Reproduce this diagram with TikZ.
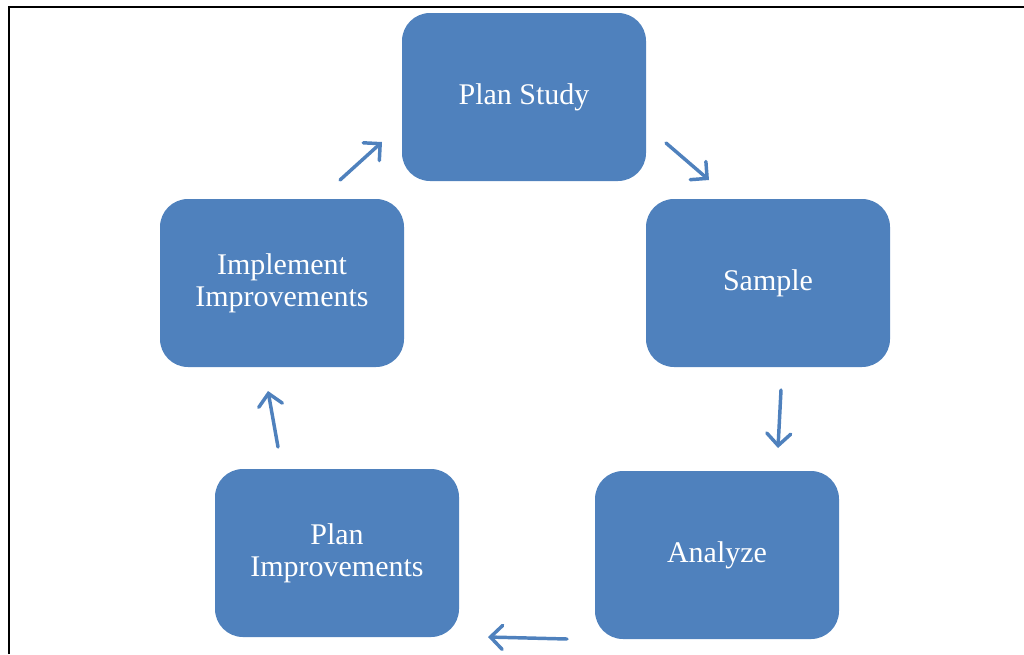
\documentclass[tikz,border=0pt]{standalone}
\usepackage{fontspec}
\setmainfont{Liberation Serif}
\usetikzlibrary{arrows.meta}
\definecolor{stageblue}{HTML}{4F81BD}

\begin{document}
\begin{tikzpicture}[x=0.75pt,y=-0.75pt]
	\tikzset{stage/.style={rectangle,rounded corners=21pt,fill=stageblue,text=white,align=center,
		minimum width=183pt,minimum height=126pt,font=\fontsize{22.5}{24}\selectfont}}
	\tikzset{flow/.style={draw=stageblue,line width=2.6pt,line cap=round,
		-{Straight Barb[length=9pt,width=18pt,line cap=round]}}}
	\useasboundingbox (0,0) rectangle (1024,654);
	\draw[line width=1.5pt] (9,654) -- (9,7) -- (1024,7);
	% the five stages
	\node[stage] (plan) at (524,97) {Plan Study};
	\node[stage] (sample) at (768,283) {Sample};
	\node[stage] (analyze) at (717,555) {Analyze};
	\node[stage] (planimp) at (337,553) {Plan\\Improvements};
	\node[stage] (impl) at (282,283) {Implement\\Improvements};
	% arrow ends
	\coordinate (a1s) at (340,180); \coordinate (a1e) at (382,142);
	\coordinate (a2s) at (666,143); \coordinate (a2e) at (709,180);
	\coordinate (a3s) at (781,390); \coordinate (a3e) at (778,448);
	\coordinate (a4s) at (567,639); \coordinate (a4e) at (488,637);
	\coordinate (a5s) at (278,447); \coordinate (a5e) at (268,391);
	\foreach \i in {1,...,5}
		\draw[flow] (a\i s) -- (a\i e);
\end{tikzpicture}
\end{document}
